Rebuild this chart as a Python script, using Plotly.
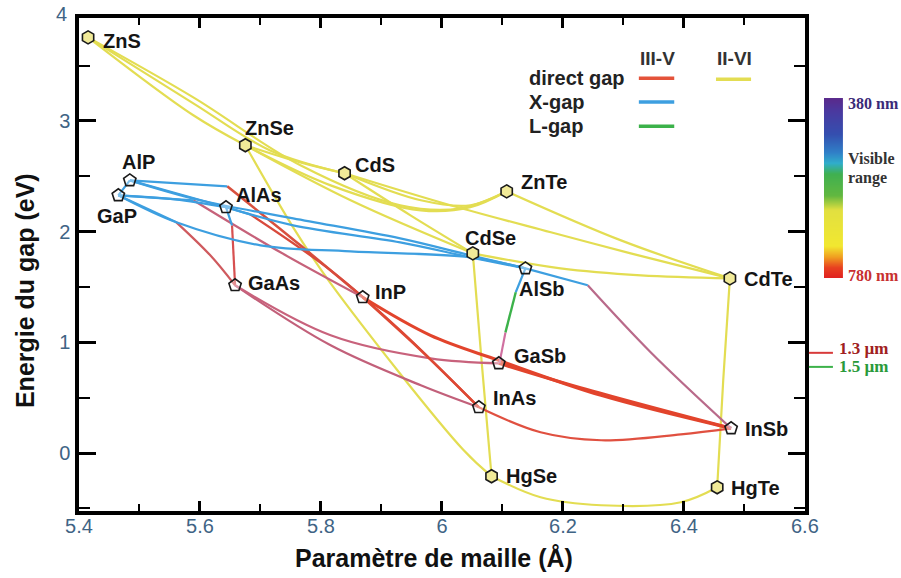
import plotly.graph_objects as go

# ---------------- data ----------------
compounds = ["ZnS", "ZnSe", "CdS", "ZnTe", "CdSe", "CdTe", "HgSe", "HgTe",
             "AlP", "GaP", "AlAs", "GaAs", "InP", "AlSb", "GaSb", "InAs", "InSb"]
families = ["II-VI"] * 8 + ["III-V"] * 9
lattice_A = [5.415, 5.675, 5.839, 6.107, 6.051, 6.476, 6.082, 6.455,
             5.484, 5.465, 5.643, 5.658, 5.869, 6.138, 6.094, 6.061, 6.478]
gap_eV = [3.755, 2.780, 2.527, 2.364, 1.804, 1.578, -0.210, -0.310,
          2.463, 2.328, 2.220, 1.515, 1.407, 1.668, 0.810, 0.413, 0.223]

# II-VI alloys (direct gap)
ii_vi_curves = [
    ("ZnS-ZnSe", [5.415, 5.589, 5.675], [3.755, 3.051, 2.780]),
    ("ZnS-CdS", [5.415, 5.589, 5.716, 5.839], [3.755, 3.159, 2.734, 2.527]),
    ("ZnS-ZnTe", [5.415, 5.589, 5.766, 5.931, 6.031, 6.107], [3.755, 3.213, 2.599, 2.238, 2.210, 2.364]),
    ("ZnSe-CdS", [5.675, 5.766, 5.839], [2.780, 2.626, 2.527]),
    ("ZnSe-ZnTe", [5.675, 5.816, 5.965, 6.047, 6.107], [2.780, 2.418, 2.192, 2.220, 2.364]),
    ("ZnSe-CdSe", [5.675, 5.849, 6.051], [2.780, 2.283, 1.804]),
    ("ZnSe-HgSe", [5.675, 5.754, 5.816, 6.036, 6.082], [2.780, 2.039, 1.533, 0.024, -0.210]),
    ("CdS-ZnTe", [5.839, 5.965, 6.047, 6.107], [2.527, 2.283, 2.238, 2.364]),
    ("CdS-CdSe", [5.839, 5.948, 6.051], [2.527, 2.147, 1.804]),
    ("CdS-CdTe", [5.839, 6.014, 6.180, 6.312, 6.476], [2.527, 2.238, 1.994, 1.804, 1.578]),
    ("ZnTe-CdTe", [6.107, 6.296, 6.476], [2.364, 1.921, 1.578]),
    ("CdSe-CdTe", [6.051, 6.196, 6.329, 6.476], [1.804, 1.668, 1.605, 1.578]),
    ("CdSe-HgSe", [6.051, 6.066, 6.082], [1.804, 0.800, -0.210]),
    ("CdTe-HgTe", [6.476, 6.465, 6.455], [1.578, 0.657, -0.310]),
    ("HgSe-HgTe", [6.082, 6.163, 6.263, 6.395, 6.455], [-0.210, -0.400, -0.472, -0.445, -0.310]),
]

# III-V alloys, X-gap segments
iii_v_x_curves = [
    ("AlP-InP", [5.484, 5.645], [2.463, 2.409]),
    ("AlP-AlAs", [5.484, 5.643], [2.463, 2.220]),
    ("GaP-AlP", [5.465, 5.484], [2.328, 2.463]),
    ("GaP-AlAs", [5.465, 5.559, 5.643], [2.328, 2.292, 2.220]),
    ("AlP-AlSb", [5.484, 5.600, 5.754, 5.931, 6.047, 6.138], [2.463, 2.283, 2.120, 1.939, 1.786, 1.668]),
    ("AlAs-AlSb", [5.643, 5.754, 5.931, 6.047, 6.138], [2.220, 2.057, 1.903, 1.768, 1.668]),
    ("GaP-AlSb", [5.465, 5.561, 5.700, 5.849, 6.047, 6.138], [2.328, 2.084, 1.876, 1.822, 1.768, 1.668]),
    ("GaP-GaAs", [5.465, 5.561], [2.328, 2.084]),
    ("GaP-InP", [5.465, 5.589], [2.328, 2.283]),
    ("AlAs-GaAs", [5.643, 5.653], [2.220, 2.057]),
    ("AlAs-InAs", [5.643, 5.683], [2.220, 2.156]),
    ("AlSb-InSb", [6.138, 6.241], [1.668, 1.515]),
    ("AlSb-GaSb", [6.138, 6.122], [1.668, 1.452]),
]

# III-V alloys, L-gap segments
iii_v_l_curves = [
    ("AlSb-GaSb", [6.122, 6.105], [1.452, 1.090]),
]

# III-V alloys, direct-gap segments
iii_v_direct_curves = [
    ("AlP-InP", [5.645, 5.766, 5.869], [2.409, 1.876, 1.407]),
    ("GaP-InP", [5.589, 5.733, 5.869], [2.283, 1.813, 1.407]),
    ("GaP-GaAs", [5.561, 5.617, 5.658], [2.084, 1.786, 1.515]),
    ("AlAs-GaAs", [5.653, 5.658], [2.057, 1.515]),
    ("AlAs-InAs", [5.683, 5.816, 5.931, 6.061], [2.156, 1.650, 1.108, 0.413]),
    ("GaAs-InAs", [5.658, 5.816, 5.965, 6.061], [1.515, 0.973, 0.612, 0.413]),
    ("GaAs-GaSb", [5.658, 5.816, 5.981, 6.094], [1.515, 1.063, 0.855, 0.810]),
    ("InP-InAs", [5.869, 5.965, 6.061], [1.407, 0.928, 0.413]),
    ("InP-InSb", [5.869, 5.981, 6.094, 6.263, 6.478], [1.407, 1.063, 0.837, 0.521, 0.223]),
    ("GaSb-InSb", [6.094, 6.229, 6.478], [0.810, 0.589, 0.223]),
    ("InAs-InSb", [6.061, 6.163, 6.263, 6.395, 6.478], [0.413, 0.187, 0.115, 0.169, 0.223]),
    ("AlSb-InSb", [6.241, 6.345, 6.478], [1.515, 0.910, 0.223]),
    ("AlSb-GaSb", [6.105, 6.095], [1.090, 0.810]),
]

x_tick_vals = [5.4, 5.6, 5.8, 6.0, 6.2, 6.4, 6.6]
x_tick_text = ["5.4", "5.6", "5.8", "6", "6.2", "6.4", "6.6"]
y_tick_vals = [0, 1, 2, 3]
y_tick_text = ["0", "1", "2", "3"]
y_top_label = "4"

spectrum_nm = [380, 400, 420, 440, 460, 480, 500, 520, 540, 560, 580,
               600, 620, 640, 660, 680, 700, 720, 740, 760, 780]
telecom_labels = ["1.3 µm", "1.5 µm"]
telecom_eV = [0.905, 0.778]

# ---------------- styles ----------------
YELLOW = "#e3dd52"
BLUE = "#3d9fe0"
GREEN = "#3cb24a"
direct_style = {
    "AlP-InP": ("#d8503e", 2.6), "GaP-InP": ("#c6627a", 2.2), "GaP-GaAs": ("#cf5a5e", 2.2),
    "AlAs-GaAs": ("#d75050", 2.2), "AlAs-InAs": ("#d84a3c", 2.2), "GaAs-InAs": ("#c2607a", 2.2),
    "GaAs-GaSb": ("#c8627c", 2.2), "InP-InAs": ("#de4833", 2.4), "InP-InSb": ("#e2442c", 3.2),
    "GaSb-InSb": ("#e2442c", 3.2), "InAs-InSb": ("#e05040", 2.2), "AlSb-InSb": ("#b96a8a", 2.2),
    "AlSb-GaSb": ("#d070a0", 2.2),
}
label_pos = {  # (xshift, yshift) in px, text anchored left
    "ZnS": (13, -4), "ZnSe": (-2, 17), "CdS": (8, 8), "ZnTe": (12, 9), "CdSe": (-10, 15),
    "CdTe": (12, -1), "HgSe": (12, 0), "HgTe": (12, -1), "AlP": (-10, 18), "GaP": (-23, -21),
    "AlAs": (8, 12), "GaAs": (11, 2), "InP": (10, 5), "AlSb": (-8, -21), "GaSb": (13, 7),
    "InAs": (12, 9), "InSb": (12, -1),
}

# horizontal layout helper (effective plotting width seen in the rendered page)
PW = 807.0
def px(p):
    return (p - 79) / PW

fig = go.Figure()

def add_curves(curves, color_fn):
    for name, xs, ys in curves:
        color, width = color_fn(name)
        fig.add_trace(go.Scatter(x=xs, y=ys, mode="lines", name=name,
                                 line=dict(color=color, width=width, shape="spline", smoothing=1.0),
                                 hoverinfo="skip", showlegend=False))

add_curves(ii_vi_curves, lambda n: (YELLOW, 2.2))
add_curves(iii_v_direct_curves, lambda n: direct_style[n])
add_curves(iii_v_x_curves, lambda n: (BLUE, 2.2))
add_curves(iii_v_l_curves, lambda n: (GREEN, 2.4))

# compound markers
for fam, sym, fill in [("II-VI", "hexagon", "#f1ea98"), ("III-V", "pentagon", "rgba(255,255,255,0.35)")]:
    idx = [i for i, f in enumerate(families) if f == fam]
    fig.add_trace(go.Scatter(
        x=[lattice_A[i] for i in idx], y=[gap_eV[i] for i in idx], mode="markers",
        marker=dict(symbol=sym, size=13, color=fill, line=dict(color="#1a1a1a", width=1.6)),
        text=[compounds[i] for i in idx], hoverinfo="text", showlegend=False))

# colour bar of the visible range
colorscale = [[0.0, "#5a2a8c"], [0.07, "#4a3aa0"], [0.2, "#3450b0"], [0.3, "#3080c8"],
              [0.36, "#30aecb"], [0.42, "#40b050"], [0.54, "#62b840"], [0.62, "#e2e040"],
              [0.82, "#f2e830"], [0.88, "#f0a020"], [0.94, "#e84020"], [1.0, "#e02020"]]
fig.add_trace(go.Heatmap(x=[0, 1], y=spectrum_nm, z=[[w, w] for w in spectrum_nm],
                         zmin=380, zmax=780, colorscale=colorscale, zsmooth="best",
                         showscale=False, hoverinfo="skip", xaxis="x2", yaxis="y2"))

tick_font = dict(family="Liberation Sans, Arial", size=20, color="#3f6485")
label_font = dict(family="Liberation Sans, Arial", size=20, color="#151515", weight="bold")

fig.update_layout(
    width=901, height=578, autosize=False,
    margin=dict(l=79, r=0, t=18, b=67),
    plot_bgcolor="white", paper_bgcolor="white", showlegend=False,
    xaxis=dict(domain=[0, px(804)], range=[5.4, 6.6], showline=True, linecolor="black", linewidth=3.5,
               mirror="ticks", ticks="inside", ticklen=10, tickwidth=2.5, tickcolor="black",
               tickmode="array", tickvals=x_tick_vals, ticktext=x_tick_text, tickfont=tick_font,
               ticklabelstandoff=-6,
               minor=dict(tickmode="linear", tick0=5.4, dtick=0.1, ticks="inside", ticklen=7,
                          tickwidth=2, tickcolor="black"),
               showgrid=False, zeroline=False),
    yaxis=dict(range=[-0.524, 3.93], showline=True, linecolor="black", linewidth=3.5,
               mirror="ticks", ticks="inside", ticklen=17, tickwidth=2.5, tickcolor="black",
               tickmode="array", tickvals=y_tick_vals, ticktext=y_tick_text, tickfont=tick_font,
               ticklabelstandoff=1,
               minor=dict(tickmode="linear", tick0=0, dtick=0.5, ticks="inside", ticklen=11,
                          tickwidth=2, tickcolor="black"),
               showgrid=False, zeroline=False),
    xaxis2=dict(domain=[px(823), px(842)], anchor="y2", range=[0, 1], visible=False),
    yaxis2=dict(domain=[0.4726, 0.8377], anchor="x2", range=[780, 380], visible=False),
)

ann = []
for name, x, y in zip(compounds, lattice_A, gap_eV):
    dx, dy = label_pos[name]
    ann.append(dict(x=x, y=y, xref="x", yref="y", text=name, showarrow=False,
                    xanchor="left", yanchor="middle", xshift=dx, yshift=dy, font=label_font))

# axis titles and the top "4" tick label
ann.append(dict(x=px(25), y=0.448, xref="paper", yref="paper", text="Energie du gap (eV)",
                textangle=-90, showarrow=False, xanchor="center", yanchor="middle",
                font=dict(family="Liberation Sans, Arial", size=25, color="#111", weight="bold")))
ann.append(dict(x=px(434), y=-0.0953, xref="paper", yref="paper", text="Paramètre de maille (Å)",
                showarrow=False, xanchor="center", yanchor="middle",
                font=dict(family="Liberation Sans, Arial", size=25, color="#111", weight="bold")))
ann.append(dict(x=px(62), y=1.008, xref="paper", yref="paper", text=y_top_label,
                showarrow=False, xanchor="center", yanchor="middle", font=tick_font))

# legend (built as text + line samples)
leg_font = dict(family="Liberation Sans, Arial", size=20, color="#222", weight="bold")
for txt, yv in [("direct gap", 3.385), ("X-gap", 3.171), ("L-gap", 2.951)]:
    ann.append(dict(x=6.140, y=yv, xref="x", yref="y", text=txt, showarrow=False,
                    xanchor="left", yanchor="middle", font=leg_font))
for txt, xv in [("III-V", 6.357), ("II-VI", 6.483)]:
    ann.append(dict(x=xv, y=3.566, xref="x", yref="y", text=txt, showarrow=False,
                    xanchor="center", yanchor="middle",
                    font=dict(family="Liberation Sans, Arial", size=19, color="#333", weight="bold")))

shapes = []
for col, yv in [("#e4533a", 3.385), (BLUE, 3.171), (GREEN, 2.951)]:
    shapes.append(dict(type="line", xref="x", yref="y", x0=6.3255, x1=6.384, y0=yv, y1=yv,
                       line=dict(color=col, width=3.5)))
shapes.append(dict(type="line", xref="x", yref="y", x0=6.453, x1=6.511, y0=3.376, y1=3.376,
                   line=dict(color=YELLOW, width=3.5)))

# colour-bar texts
serif = "Liberation Serif, Times New Roman"
for txt, yv, col in [("380 nm", 3.158, "#3a2a78"), ("Visible", 2.661, "#333333"),
                     ("range", 2.489, "#333333"), ("780 nm", 1.604, "#c83030")]:
    ann.append(dict(x=px(845), y=yv, xref="paper", yref="y", text=txt, showarrow=False,
                    xanchor="left", yanchor="middle",
                    font=dict(family=serif, size=16, color=col, weight="bold")))

# telecom wavelengths
for txt, yv, col, tcol, dy in zip(telecom_labels, telecom_eV, ["#d83a3a", "#3cb24a"],
                                  ["#a02020", "#2a9a3a"], [0.04, 0.0]):
    shapes.append(dict(type="line", xref="paper", yref="y", x0=px(808), x1=px(832), y0=yv, y1=yv,
                       line=dict(color=col, width=2)))
    ann.append(dict(x=px(836), y=yv + dy, xref="paper", yref="y", text=txt, showarrow=False,
                    xanchor="left", yanchor="middle",
                    font=dict(family=serif, size=17, color=tcol, weight="bold")))

fig.update_layout(annotations=ann, shapes=shapes)
fig.write_html("out.html", config={"responsive": False, "displayModeBar": False},
               post_script="document.body.style.margin='0';document.body.style.overflow='hidden';")
